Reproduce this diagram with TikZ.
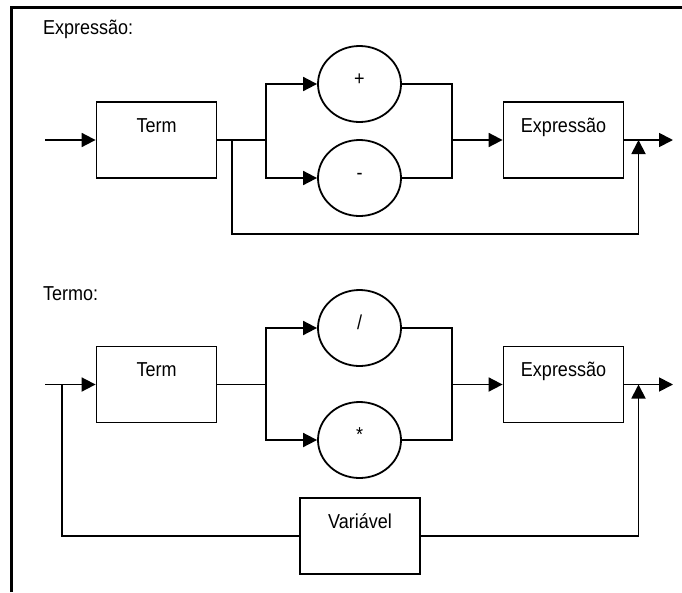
\documentclass[tikz,border=0pt]{standalone}
\usepackage{fontspec}
\usepackage{graphicx}
\setmainfont{Liberation Sans}
\usetikzlibrary{arrows.meta,shapes.geometric}
\newcommand{\tallt}[1]{\scalebox{1}[1.12]{#1}}
\begin{document}
\begin{tikzpicture}[x=1pt,y=-1pt,
  every node/.style={font=\fontsize{18}{21}\selectfont},
  ln/.style={line width=1.8pt, line join=miter},
  arr/.style={ln, -{Triangle[length=14pt,width=14pt]}},
  boxnode/.style={draw, ln, rectangle, inner sep=0pt, minimum width=120pt,
    text height=30pt, text depth=46pt},
  opnode/.style={draw, ln, ellipse, inner sep=0pt, minimum width=83pt,
    minimum height=76pt, text height=3pt, text depth=0pt}]
\useasboundingbox (0,0) rectangle (682,592);
\draw[line width=3.5pt] (11.5,592) -- (11.5,7.5) -- (682,7.5);

% ---- Expressao ----
\node[anchor=base west, inner sep=0pt] (t1) at (43,34) {\tallt{Expressão:}};
\node[boxnode] (term1) at (156.5,140) {\tallt{Term}};
\node[opnode] (plus) at (359.5,84) {\tallt{+}};
\node[opnode] (minus) at (359.5,178) {\tallt{-}};
\node[boxnode] (expr1) at (563.5,140) {\tallt{Expressão}};
\coordinate (in1) at (45,140);
\coordinate (s1) at (266,140);
\coordinate (m1) at (452,140);
\coordinate (out1) at (673,140);
\coordinate (b1) at (232,140);
\coordinate (b1d) at (232,234);
\coordinate (j1) at (638.5,140);
\draw[arr] (in1) -- (term1.west);
\draw[ln] (term1.east) -- (s1);
\draw[arr] (s1) |- (plus.west);
\draw[arr] (s1) |- (minus.west);
\draw[ln] (plus.east) -| (m1);
\draw[ln] (minus.east) -| (m1);
\draw[arr] (m1) -- (expr1.west);
\draw[arr] (expr1.east) -- (out1);
\draw[arr] (b1) -- (b1d) -| (j1);

% ---- Termo ----
\node[anchor=base west, inner sep=0pt] (t2) at (43,300) {\tallt{Termo:}};
\node[boxnode] (term2) at (156.5,384.5) {\tallt{Term}};
\node[opnode] (slash) at (359.5,328) {\tallt{/}};
\node[opnode] (star) at (359.5,440) {\tallt{*}};
\node[boxnode] (expr2) at (563.5,384.5) {\tallt{Expressão}};
\node[boxnode] (var) at (360,536) {\tallt{Variável}};
\coordinate (in2) at (45,384.5);
\coordinate (f2) at (62,384.5);
\coordinate (s2) at (266,384.5);
\coordinate (m2) at (452,384.5);
\coordinate (out2) at (673,384.5);
\coordinate (j2) at (638.5,384.5);
\draw[arr] (in2) -- (term2.west);
\draw[ln] (var.west) -| (f2);
\draw[ln] (term2.east) -- (s2);
\draw[arr] (s2) |- (slash.west);
\draw[arr] (s2) |- (star.west);
\draw[ln] (slash.east) -| (m2);
\draw[ln] (star.east) -| (m2);
\draw[arr] (m2) -- (expr2.west);
\draw[arr] (expr2.east) -- (out2);
\draw[arr] (var.east) -| (j2);
\end{tikzpicture}
\end{document}
